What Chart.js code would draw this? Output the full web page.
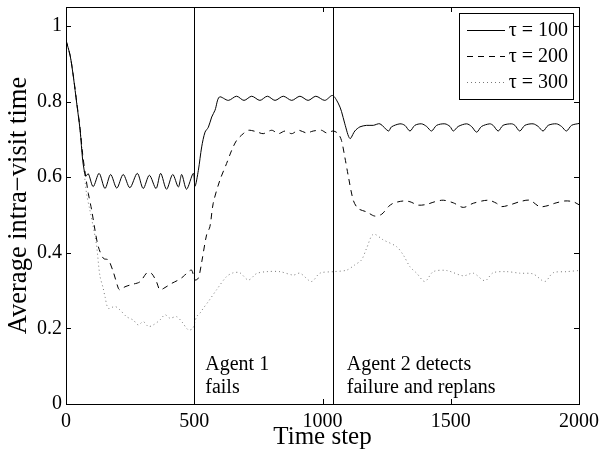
<!DOCTYPE html>
<html>
<head>
<meta charset="utf-8">
<script src="https://cdn.jsdelivr.net/npm/chart.js@4.4.1/dist/chart.umd.min.js"></script>
<style>
html,body{margin:0;padding:0;background:#fff;}
#wrap{width:600px;height:453px;position:relative;}
</style>
</head>
<body>
<div id="wrap"><canvas id="c" width="600" height="453"></canvas></div>
<script>
// ---- data ----
const seriesLabels = ['\u03C4 = 100', '\u03C4 = 200', '\u03C4 = 300'];
const xTicks = [0, 500, 1000, 1500, 2000];
const yTicks = [0, 0.2, 0.4, 0.6, 0.8, 1];
const xTitle = 'Time step';
const yTitle = 'Average intra\u2212visit time';
const eventTimes = [500, 1040];
const eventLabels = [['Agent 1', 'fails'], ['Agent 2 detects', 'failure and replans']];

const t100 = [0,16,29,42,55,65,74,78,87,106,129,152,174,198,223,249,278,301,325,351,369,392,416,438,451,470,496,503,516,529,542,555,568,581,598,633,665,694,724,756,785,815,847,880,912,944,974,1009,1039,1061,1074,1087,1107,1126,1146,1172,1198,1224,1257,1269,1302,1321,1341,1360,1386,1406,1425,1445,1477,1497,1510,1529,1562,1581,1601,1620,1652,1665,1685,1704,1737,1750,1769,1789,1821,1841,1860,1880,1912,1932,1951,1971,2000];
const v100 = [0.962,0.922,0.864,0.794,0.724,0.645,0.607,0.603,0.609,0.575,0.610,0.570,0.607,0.571,0.607,0.572,0.610,0.570,0.605,0.570,0.610,0.568,0.607,0.574,0.607,0.568,0.610,0.576,0.618,0.680,0.719,0.732,0.759,0.777,0.812,0.803,0.814,0.803,0.814,0.803,0.814,0.803,0.814,0.803,0.814,0.803,0.814,0.803,0.816,0.796,0.774,0.741,0.702,0.722,0.733,0.737,0.737,0.741,0.722,0.733,0.741,0.737,0.722,0.737,0.741,0.734,0.722,0.737,0.741,0.734,0.722,0.734,0.741,0.734,0.719,0.734,0.741,0.737,0.722,0.737,0.741,0.737,0.722,0.737,0.741,0.734,0.722,0.737,0.741,0.734,0.722,0.737,0.742];

const t200 = [0,16,29,42,55,65,75,87,100,113,126,146,165,184,204,210,230,256,288,317,334,353,366,386,412,438,457,477,490,503,516,529,548,561,574,600,626,646,665,691,711,743,769,802,828,854,880,906,938,964,996,1016,1042,1061,1074,1087,1100,1120,1139,1172,1204,1231,1257,1276,1315,1341,1373,1406,1438,1471,1510,1549,1588,1646,1678,1698,1737,1769,1808,1847,1886,1906,1945,1977,2000];
const v200 = [0.962,0.922,0.866,0.797,0.728,0.660,0.610,0.557,0.513,0.460,0.416,0.385,0.381,0.350,0.306,0.302,0.310,0.316,0.323,0.348,0.345,0.323,0.302,0.308,0.319,0.328,0.337,0.350,0.354,0.328,0.333,0.375,0.447,0.469,0.531,0.592,0.636,0.671,0.697,0.715,0.724,0.720,0.715,0.724,0.715,0.722,0.715,0.724,0.717,0.722,0.724,0.717,0.722,0.715,0.697,0.653,0.605,0.539,0.517,0.508,0.497,0.502,0.522,0.531,0.537,0.535,0.526,0.528,0.535,0.539,0.532,0.520,0.531,0.539,0.531,0.522,0.528,0.535,0.539,0.522,0.526,0.531,0.537,0.535,0.527];

const t300 = [0,16,29,42,55,67,80,93,106,119,132,145,152,165,191,210,236,262,282,301,321,340,366,386,405,431,451,477,494,509,522,535,555,587,626,652,678,711,743,782,834,886,912,957,990,1042,1094,1126,1152,1172,1198,1237,1289,1315,1341,1367,1399,1432,1484,1549,1588,1633,1665,1718,1769,1821,1867,1899,1951,2000];
const v300 = [0.962,0.922,0.866,0.797,0.725,0.640,0.557,0.513,0.469,0.420,0.340,0.306,0.284,0.253,0.258,0.249,0.231,0.222,0.209,0.218,0.205,0.209,0.222,0.236,0.227,0.231,0.218,0.196,0.200,0.231,0.240,0.253,0.271,0.302,0.337,0.347,0.347,0.328,0.345,0.350,0.350,0.341,0.346,0.324,0.346,0.350,0.354,0.368,0.381,0.412,0.449,0.434,0.416,0.394,0.363,0.346,0.324,0.350,0.353,0.339,0.346,0.326,0.347,0.350,0.346,0.344,0.324,0.347,0.350,0.353];

// ---- build ----
const FONT = '"Liberation Serif", "Times New Roman", serif';
function pts(ts, vs){ return ts.map((t,i)=>({x:t, y:vs[i]})); }
const styles = [
  {color:'#000', dash:[], width:1},
  {color:'#000', dash:[6,5], width:1},
  {color:'#777', dash:[1,3], width:1}
];
const seriesT = [t100, t200, t300];
const seriesV = [v100, v200, v300];
const datasets = seriesLabels.map((lab,i)=>({
  label: lab,
  data: pts(seriesT[i], seriesV[i]),
  borderColor: styles[i].color,
  borderDash: styles[i].dash,
  borderWidth: styles[i].width,
  pointRadius: 0,
  fill: false,
  tension: 0.3
}));

const decor = {
  id: 'decor',
  afterDatasetsDraw(chart){
    const ctx = chart.ctx, ca = chart.chartArea;
    const xs = chart.scales.x, ys = chart.scales.y;
    ctx.save();
    ctx.strokeStyle = '#000'; ctx.lineWidth = 1; ctx.setLineDash([]);
    eventTimes.forEach(t=>{
      const px = Math.round(xs.getPixelForValue(t)) + 0.5;
      ctx.beginPath(); ctx.moveTo(px, ca.top); ctx.lineTo(px, ca.bottom); ctx.stroke();
    });
    ctx.strokeRect(Math.round(ca.left)+0.5, Math.round(ca.top)+0.5, Math.round(ca.right-ca.left), Math.round(ca.bottom-ca.top));
    const tl = 5;
    xTicks.forEach(v=>{
      const px = Math.round(xs.getPixelForValue(v))+0.5;
      ctx.beginPath();
      ctx.moveTo(px, ca.bottom); ctx.lineTo(px, ca.bottom-tl);
      ctx.moveTo(px, ca.top); ctx.lineTo(px, ca.top+tl);
      ctx.stroke();
    });
    yTicks.forEach(v=>{
      const py = Math.round(ys.getPixelForValue(v))+0.5;
      ctx.beginPath();
      ctx.moveTo(ca.left, py); ctx.lineTo(ca.left+tl, py);
      ctx.moveTo(ca.right, py); ctx.lineTo(ca.right-tl, py);
      ctx.stroke();
    });
    ctx.fillStyle = '#000';
    ctx.font = '20px ' + FONT;
    ctx.textAlign = 'left'; ctx.textBaseline = 'alphabetic';
    const offs = [11, 14];
    eventLabels.forEach((lines, i)=>{
      const px = xs.getPixelForValue(eventTimes[i]) + offs[i];
      const base = ys.getPixelForValue(0) - 34;
      lines.forEach((s, j)=> ctx.fillText(s, px, base + j*22.5));
    });
    const bw = 114, bh = 86;
    const bx = Math.round(ca.right) - 6 - bw, by = Math.round(ca.top) + 6;
    ctx.fillStyle = '#fff';
    ctx.fillRect(bx, by, bw, bh);
    ctx.strokeStyle = '#000'; ctx.lineWidth = 1;
    ctx.strokeRect(bx+0.5, by+0.5, bw, bh);
    const rows = [17, 43, 69];
    chart.data.datasets.forEach((ds, i)=>{
      const y = by + rows[i] + 0.5;
      ctx.strokeStyle = ds.borderColor; ctx.setLineDash(ds.borderDash); ctx.lineWidth = ds.borderWidth;
      ctx.beginPath(); ctx.moveTo(bx+8, y); ctx.lineTo(bx+46, y); ctx.stroke();
      ctx.setLineDash([]);
      ctx.fillStyle = '#000';
      ctx.textAlign = 'right'; ctx.textBaseline = 'middle';
      ctx.fillText(ds.label, bx + bw - 5, y);
    });
    ctx.restore();
  }
};

new Chart(document.getElementById('c'), {
  type: 'line',
  data: { datasets },
  options: {
    responsive: false,
    animation: false,
    layout: { padding: { top: 7, right: 21, left: 0, bottom: 0 } },
    plugins: { legend: { display: false }, tooltip: { enabled: false } },
    scales: {
      x: {
        type: 'linear', min: 0, max: 2000,
        afterBuildTicks: s => { s.ticks = xTicks.map(v=>({value:v})); },
        afterFit: s => { s.height = 49; s.paddingLeft = 0; s.paddingRight = 0; },
        grid: { display: false, drawTicks: false },
        border: { display: false },
        ticks: { autoSkip: false, maxRotation: 0, padding: 6, color: '#000', font: { family: FONT, size: 20 }, callback: v => String(v) },
        title: { display: true, text: xTitle, color: '#000', font: { family: FONT, size: 25 }, padding: { top: 0, bottom: 1 } }
      },
      y: {
        type: 'linear', min: 0, max: 1.05,
        afterBuildTicks: s => { s.ticks = yTicks.map(v=>({value:v})); },
        afterFit: s => { s.width = 66; s.paddingTop = 0; s.paddingBottom = 0; },
        grid: { display: false, drawTicks: false },
        border: { display: false },
        ticks: { autoSkip: false, padding: 4, color: '#000', font: { family: FONT, size: 20 }, callback: v => String(v) },
        title: { display: true, text: yTitle, color: '#000', font: { family: FONT, size: 26.5 }, padding: { top: 3, bottom: 0 } }
      }
    }
  },
  plugins: [decor]
});
</script>
</body>
</html>
